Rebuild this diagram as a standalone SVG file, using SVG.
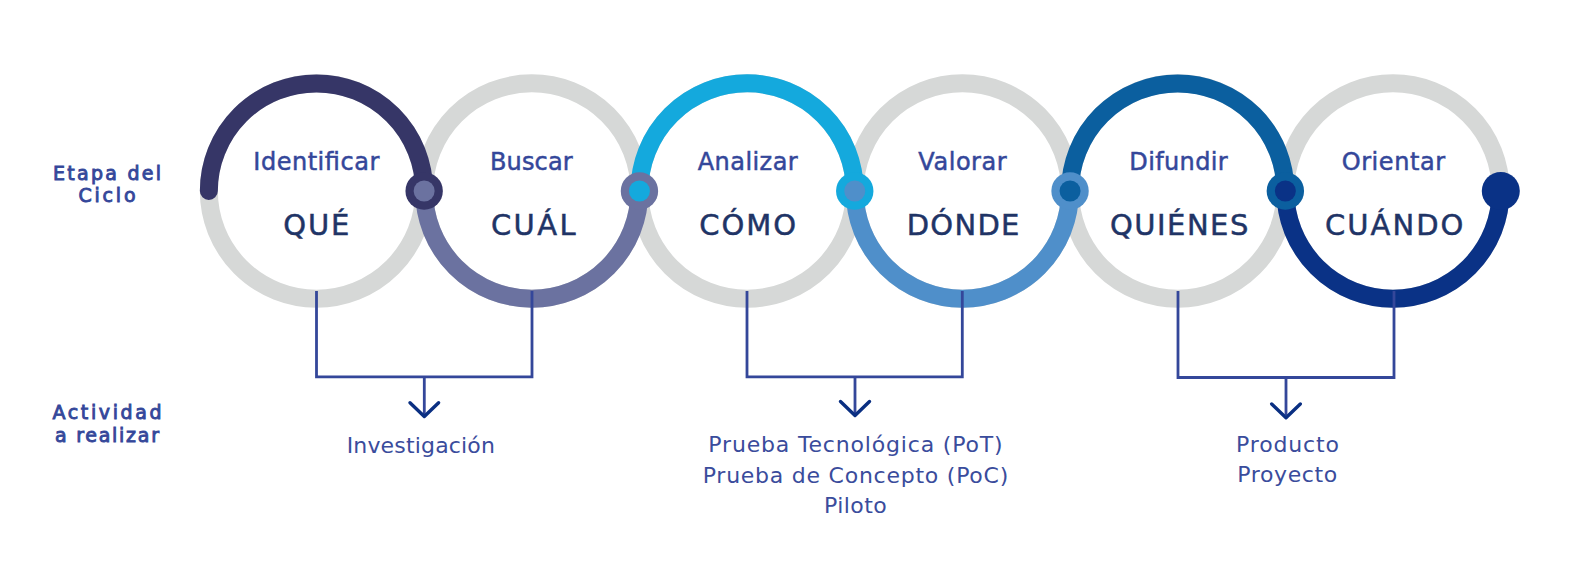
<svg xmlns="http://www.w3.org/2000/svg" width="1586" height="570" viewBox="0 0 1586 570">
<style>
.ring{fill:none;stroke:#d6d8d7;stroke-width:18}
.arc{fill:none;stroke-width:18;stroke-linecap:round}
.verb{font-family:"DejaVu Sans",sans-serif;font-size:24px;fill:#34479a;stroke:#34479a;stroke-width:0.5;text-anchor:middle}
.q{font-family:"DejaVu Sans",sans-serif;font-size:29px;fill:#1f3466;stroke:#1f3466;stroke-width:0.5;text-anchor:middle}
.side{font-family:"DejaVu Sans",sans-serif;font-size:19px;fill:#34479a;stroke:#34479a;stroke-width:0.9;text-anchor:middle}
.act{font-family:"DejaVu Sans",sans-serif;font-size:22px;fill:#3a4c9c;text-anchor:middle}
.conn{fill:none;stroke:#34479a;stroke-width:2.8}
.arrow{fill:none;stroke:#0a2f82;stroke-width:3.4;stroke-linecap:round;stroke-linejoin:round}
</style>
<rect width="1586" height="570" fill="#ffffff"/>
<g id="labels">
<text class="side" x="107" y="180" textLength="108">Etapa del</text>
<text class="side" x="107" y="202" textLength="57">Ciclo</text>
<text class="side" x="107" y="418.5" textLength="109">Actividad</text>
<text class="side" x="107" y="441.5" textLength="104">a realizar</text>
</g>
<g id="rings">
<circle class="ring" cx="316.5" cy="191" r="107.65"/>
<circle class="ring" cx="531.8" cy="191" r="107.65"/>
<circle class="ring" cx="747.1" cy="191" r="107.65"/>
<circle class="ring" cx="962.4" cy="191" r="107.65"/>
<circle class="ring" cx="1177.7" cy="191" r="107.65"/>
<circle class="ring" cx="1393" cy="191" r="107.65"/>
</g>
<g id="arcs">
<path class="arc" stroke="#363667" d="M208.85,191 A107.65,107.65 0 0 1 424.15,191"/>
<path class="arc" stroke="#6b72a0" d="M424.15,191 A107.65,107.65 0 0 0 639.45,191"/>
<path class="arc" stroke="#14a9dd" d="M639.45,191 A107.65,107.65 0 0 1 854.75,191"/>
<path class="arc" stroke="#4f8fca" d="M854.75,191 A107.65,107.65 0 0 0 1070.05,191"/>
<path class="arc" stroke="#0b5f9f" d="M1070.05,191 A107.65,107.65 0 0 1 1285.35,191"/>
<path class="arc" stroke="#0a3286" d="M1285.35,191 A107.65,107.65 0 0 0 1500.65,191"/>
</g>
<g id="connectors">
<polyline class="conn" points="316.5,291 316.5,376.8 532,376.8 532,291"/>
<line class="conn" x1="424.3" y1="376.8" x2="424.3" y2="414"/>
<polyline class="arrow" points="410,402.7 424.3,416.5 438.6,402.7"/>
<polyline class="conn" points="747,291 747,376.8 962.3,376.8 962.3,291"/>
<line class="conn" x1="855" y1="376.8" x2="855" y2="413"/>
<polyline class="arrow" points="840.5,401.5 855,415.5 869.5,401.5"/>
<polyline class="conn" points="1178,291 1178,377.5 1394,377.5 1394,291"/>
<line class="conn" x1="1286" y1="377.5" x2="1286" y2="415"/>
<polyline class="arrow" points="1271.7,404 1286,417.7 1300.3,404"/>
</g>
<g id="node-que">
<text class="verb" x="316.3" y="170" textLength="126">Identificar</text>
<text class="q" x="316.3" y="235" textLength="66">QUÉ</text>
</g>
<g id="node-cual">
<text class="verb" x="531.3" y="170" textLength="82.7">Buscar</text>
<text class="q" x="533.3" y="235" textLength="84.7">CUÁL</text>
</g>
<g id="node-como">
<text class="verb" x="747.7" y="170" textLength="100">Analizar</text>
<text class="q" x="747.7" y="235" textLength="96.7">CÓMO</text>
</g>
<g id="node-donde">
<text class="verb" x="962.5" y="170" textLength="88.3">Valorar</text>
<text class="q" x="963" y="235" textLength="112.7">DÓNDE</text>
</g>
<g id="node-quienes">
<text class="verb" x="1178.5" y="170" textLength="98.3">Difundir</text>
<text class="q" x="1179.2" y="235" textLength="138.3">QUIÉNES</text>
</g>
<g id="node-cuando">
<text class="verb" x="1393.4" y="170" textLength="103.3">Orientar</text>
<text class="q" x="1394.2" y="235" textLength="138.3">CUÁNDO</text>
</g>
<g id="joints">
<circle cx="424.15" cy="191" r="18.7" fill="#363667"/>
<circle cx="424.15" cy="191" r="10.5" fill="#6b72a0"/>
<circle cx="639.45" cy="191" r="18.7" fill="#6b72a0"/>
<circle cx="639.45" cy="191" r="10.5" fill="#14a9dd"/>
<circle cx="854.75" cy="191" r="18.7" fill="#14a9dd"/>
<circle cx="854.75" cy="191" r="10.5" fill="#4f8fca"/>
<circle cx="1070.05" cy="191" r="18.7" fill="#4f8fca"/>
<circle cx="1070.05" cy="191" r="10.5" fill="#0b5f9f"/>
<circle cx="1285.35" cy="191" r="18.7" fill="#0b5f9f"/>
<circle cx="1285.35" cy="191" r="10.5" fill="#0a3286"/>
<circle cx="1500.8" cy="191" r="19" fill="#0a3286"/>
</g>
<g id="activities">
<text class="act" x="420.8" y="453.3" textLength="148.3">Investigación</text>
<text class="act" x="855.5" y="451.7" textLength="294.3">Prueba Tecnológica (PoT)</text>
<text class="act" x="855.5" y="482.5" textLength="305.6">Prueba de Concepto (PoC)</text>
<text class="act" x="855.3" y="513.3" textLength="62.7">Piloto</text>
<text class="act" x="1287.5" y="451.7" textLength="103">Producto</text>
<text class="act" x="1287.3" y="482.3" textLength="100">Proyecto</text>
</g>
</svg>
